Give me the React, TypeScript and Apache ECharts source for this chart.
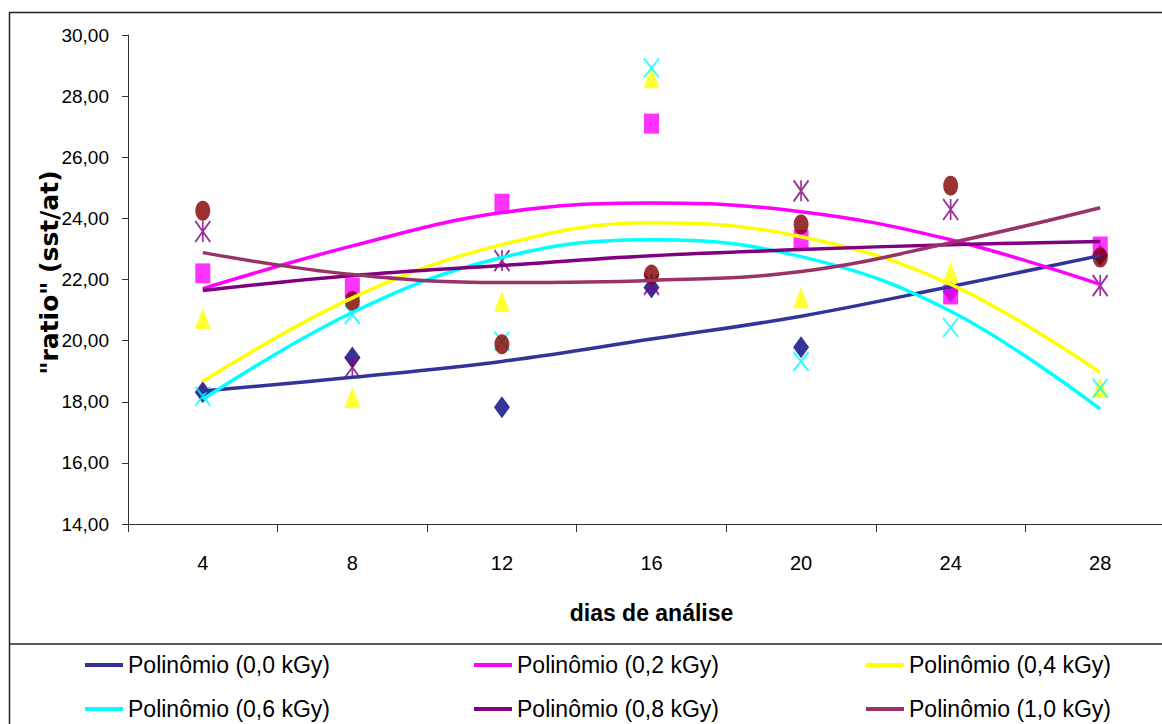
import React, { useEffect, useRef } from "react";
import * as echarts from "echarts";

// categories (dias de análise)
const days = ["4", "8", "12", "16", "20", "24", "28"];

// observed points
const pts00 = [18.31, 19.45, 17.82, 21.74, 19.78, 21.6, 22.8];
const pts02 = [22.2, 21.74, 24.48, 27.1, 23.3, 21.51, 23.08];
const pts04 = [20.72, 18.15, 21.28, 28.6, 21.4, 22.23, 18.47];
const pts06 = [18.18, 20.86, 19.98, 28.92, 19.32, 20.43, 18.44];
const pts08 = [23.57, 19.13, 22.62, 21.84, 24.9, 24.29, 21.8];
const pts10 = [24.25, 21.3, 19.88, 22.16, 23.8, 25.07, 22.72];

// polynomial trend lines read at each category
const trend00 = [18.35, 18.8, 19.32, 20.05, 20.8, 21.77, 22.78];
const trend02 = [21.7, 23.1, 24.19, 24.5, 24.22, 23.3, 21.84];
const trend04 = [18.67, 21.4, 23.14, 23.86, 23.4, 21.84, 18.96];
const trend06 = [18.08, 20.92, 22.72, 23.3, 22.75, 20.96, 17.76];
const trend08 = [21.64, 22.13, 22.46, 22.78, 22.98, 23.14, 23.24];
const trend10 = [22.88, 22.16, 21.9, 21.97, 22.26, 23.2, 24.35];

const doseLabels = ["0,0 kGy", "0,2 kGy", "0,4 kGy", "0,6 kGy", "0,8 kGy", "1,0 kGy"];
const trendNames = doseLabels.map((d) => `Polinômio (${d})`);

const yMin = 14;
const yMax = 30;
const yStep = 2;

const SANS = "'Liberation Sans', Arial, sans-serif";

export default function App() {
  const ref = useRef<HTMLDivElement | null>(null);

  useEffect(() => {
    if (!ref.current) return;
    const chart = echarts.init(ref.current, undefined, { renderer: "svg" });

    const points = [pts00, pts02, pts04, pts06, pts08, pts10];
    const trends = [trend00, trend02, trend04, trend06, trend08, trend10];
    const markerColors = ["#000080", "#FF00FF", "#FFFF00", "#00FFFF", "#800080", "#800000"];
    const lineColors = ["#333399", "#FF00FF", "#FFFF00", "#00FFFF", "#800080", "#993366"];
    const xPath = "path://M0,0L10,10M10,0L0,10";
    const starPath = "path://M0,0L10,10M10,0L0,10M5,0L5,10";
    const symbols: any[] = ["diamond", "rect", "triangle", xPath, starPath, "circle"];
    const sizes: any[] = [[16, 22], [15, 20], [16, 21], [15, 19], [15, 21], [15, 20]];

    const scatterSeries = points.map((p, i) => {
      const stroked = i === 3 || i === 4;
      return {
        type: "scatter",
        name: doseLabels[i],
        data: p,
        symbol: symbols[i],
        symbolSize: sizes[i],
        z: 2,
        itemStyle: stroked
          ? { color: "rgba(0,0,0,0)", borderColor: markerColors[i], borderWidth: 2 }
          : { color: markerColors[i] },
      };
    });

    const lineSeries = trends.map((t, i) => ({
      type: "line",
      name: trendNames[i],
      data: t,
      smooth: 0.4,
      symbol: "none",
      z: 3,
      color: lineColors[i],
      lineStyle: { color: lineColors[i], width: 3.5 },
      itemStyle: { color: lineColors[i] },
    }));

    const legendLefts = [85, 474, 866];
    const legendTops = [652, 696];
    const legends = trendNames.map((nm, i) => ({
      left: legendLefts[i % 3],
      top: legendTops[Math.floor(i / 3)],
      orient: "horizontal",
      padding: 0,
      icon: "rect",
      itemWidth: 38,
      itemHeight: 4,
      data: [nm],
      selectedMode: false,
      textStyle: { fontFamily: SANS, fontSize: 23, color: "#000", lineHeight: 26 },
    }));

    chart.setOption({
      animation: false,
      backgroundColor: "#fff",
      grid: {
        left: 128,
        top: 35,
        width: 1047,
        height: 489,
        containLabel: false,
        outerBoundsMode: "none",
      },
      legend: legends,
      xAxis: {
        type: "category",
        data: days,
        boundaryGap: true,
        name: "dias de análise",
        nameLocation: "middle",
        nameGap: 77,
        nameMoveOverlap: false,
        nameTextStyle: { fontFamily: SANS, fontWeight: "bold", fontSize: 23, color: "#000" },
        axisLine: { show: true, lineStyle: { color: "#333", width: 1 } },
        axisTick: { show: true, inside: false, length: 8, lineStyle: { color: "#333" } },
        axisLabel: { fontFamily: SANS, fontSize: 20, color: "#000", margin: 29 },
        splitLine: { show: false },
      },
      yAxis: {
        type: "value",
        min: yMin,
        max: yMax,
        interval: yStep,
        name: "\"ratio\" (sst/at)",
        nameLocation: "middle",
        nameGap: 66,
        nameRotate: 90,
        nameMoveOverlap: false,
        nameTextStyle: {
          fontFamily: "'DejaVu Sans', sans-serif",
          fontWeight: "bold",
          fontSize: 25,
          color: "#000",
          padding: [0, 0, 0, 14],
        },
        axisLine: { show: true, lineStyle: { color: "#333", width: 1 } },
        axisTick: { show: true, inside: false, length: 6, lineStyle: { color: "#333" } },
        axisLabel: {
          fontFamily: SANS,
          fontSize: 19,
          color: "#000",
          margin: 19,
          formatter: (v: number) => v.toFixed(2).replace(".", ","),
        },
        splitLine: { show: false },
      },
      graphic: [
        {
          type: "rect",
          silent: true,
          z: 0,
          shape: { x: 9.5, y: 12.5, width: 1300, height: 900 },
          style: { fill: "none", stroke: "#222", lineWidth: 1.5 },
        },
        {
          type: "line",
          silent: true,
          z: 0,
          shape: { x1: 9.5, y1: 644, x2: 1300, y2: 644 },
          style: { stroke: "#222", lineWidth: 1.5 },
        },
      ],
      series: [...scatterSeries, ...lineSeries],
    });

    return () => chart.dispose();
  }, []);

  return (
    <div
      ref={ref}
      style={{ position: "fixed", left: 0, top: 0, width: 1162, height: 724, background: "#fff" }}
    />
  );
}
